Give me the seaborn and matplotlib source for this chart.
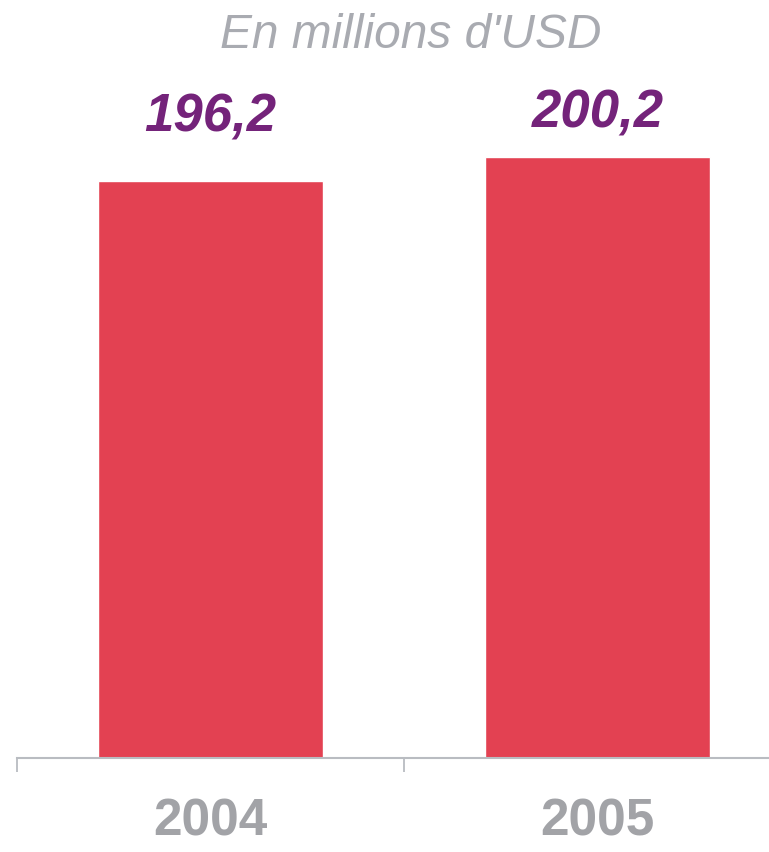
import matplotlib
matplotlib.use("Agg")
import matplotlib.pyplot as plt
import matplotlib.transforms as mtransforms
import seaborn as sns
import pandas as pd

# data
years = ["2004", "2005"]
values = [196.2, 200.2]
value_labels = ["196,2", "200,2"]

df = pd.DataFrame({"annee": years, "valeur": values})

sns.set_style("white")
plt.rcParams["font.family"] = ["Liberation Sans", "DejaVu Sans"]

W, H = 769, 853
fig = plt.figure(figsize=(W / 100, H / 100), dpi=100)
# axes runs past the right edge like the original crop
ax = fig.add_axes([17 / W, (H - 759) / H, 774 / W, (759 - 100) / H])

sns.barplot(data=df, x="annee", y="valeur", color="#e34152", saturation=1,
            width=0.58, ax=ax)

ax.set_xlim(-0.5, 1.5)
ax.set_ylim(100, 100 + (759 - 100) / 6)

for s in ["top", "right", "left"]:
    ax.spines[s].set_visible(False)
ax.spines["bottom"].set_color("#b9bcc1")
ax.spines["bottom"].set_linewidth(1.5)
ax.set_yticks([])
ax.set_xlabel("")
ax.set_ylabel("")

ax.set_xticks([-0.5, 0.5, 1.5], minor=True)
ax.tick_params(axis="x", which="minor", length=10, width=1.3, color="#b9bcc1",
               direction="out", bottom=True)
ax.tick_params(axis="x", which="major", length=0, pad=28)
for lbl in ax.get_xticklabels():
    lbl.set_fontsize(37)
    lbl.set_fontweight("bold")
    lbl.set_color("#a2a3a7")

# value labels above bars
trans = mtransforms.blended_transform_factory(ax.transData, fig.transFigure)
label_y = [118, 113]
for i, (lab, py) in enumerate(zip(value_labels, label_y)):
    ax.text(i, 1 - py / H, lab, transform=trans, ha="center", va="center",
            fontsize=38, fontweight="bold", fontstyle="italic", color="#74237a")

fig.text(411 / W, 1 - 36 / H, "En millions d'USD", ha="center", va="center",
         fontsize=34.5, fontstyle="italic", color="#a9abb1")

fig.savefig("out.png", dpi=100)
